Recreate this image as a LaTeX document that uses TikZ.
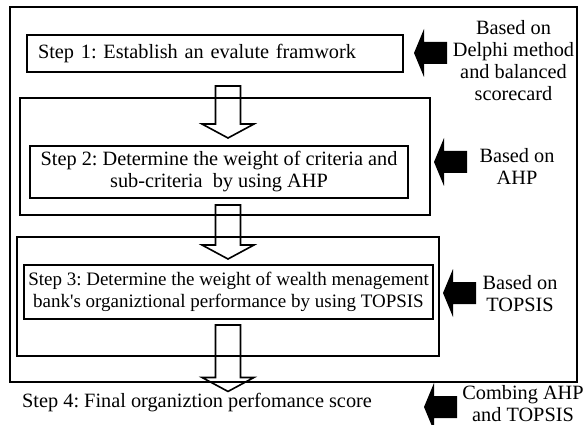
\documentclass[tikz,border=0pt]{standalone}
\usepackage{fontspec}
\setmainfont{Liberation Serif}
\frenchspacing
\usetikzlibrary{calc}
\usetikzlibrary{positioning}
\tikzset{frame/.style = {draw, line width = 2},
         stepbox/.style = {draw, line width = 2, inner sep = 0, align = center},
         based/.style = {inner sep = 0, align = center},
         hollow/.style = {line width = 1.6, line join = miter}}
\newcommand{\stepfont}{\fontsize{20.3}{22}\selectfont}
\newcommand{\smallstepfont}{\fontsize{19}{22}\selectfont}
% open arrow going down, between two points on the spine
\newcommand{\hollowdown}[2]{%
  \draw [hollow] let \p1 = #1, \p2 = #2 in
    (\x1-12.5pt, \y1) -- (\x1+12.5pt, \y1) -- (\x1+12.5pt, \y2+14pt)
    -- (\x1+26pt, \y2+14pt) -- (\x1, \y2) -- (\x1-26pt, \y2+14pt)
    -- (\x1-12.5pt, \y2+14pt) -- cycle;}
% solid arrow pointing left, tip at #1
\newcommand{\blackleft}[1]{%
  \fill (#1) -- ++(10, -24) -- ++(0, 13) -- ++(23, 0) -- ++(0, 22)
    -- ++(-23, 0) -- ++(0, 13) -- cycle;}

\begin{document}
\begin{tikzpicture}[x = 1pt, y = -1pt, font = \stepfont]
      \useasboundingbox (0, 0) rectangle (584, 425);

      \draw [frame] (10, 7) rectangle (577, 382);
      \draw [frame] (20, 98) rectangle (430, 215);
      \draw [frame] (17, 237) rectangle (439, 356);

      \node [stepbox, minimum width = 376, minimum height = 37,
             text width = 354, align = left, inner xsep = 11] (s1) at (215, 53.5)
            {Step 1: Establish an evalute framwork};
      \node [stepbox, minimum width = 378, minimum height = 52] (s2) at (219, 172)
            {Step 2: Determine the weight of criteria and\\
             sub-criteria~ by using AHP};
      \node [stepbox, minimum width = 409, minimum height = 54,
             font = \smallstepfont] (s3) at (228.5, 292)
            {Step 3: Determine the weight of wealth menagement\\
             bank\textquotesingle s organiztional performance by using TOPSIS};
      \node [based, anchor = west] (s4) at (22, 403)
            {Step 4: Final organiztion perfomance score};

      \coordinate (spine) at (228, 0);
      \hollowdown{($(s1.south -| spine) + (0, 13)$)}{($(s2.north -| spine) + (0, -7)$)}
      \hollowdown{($(s2.south -| spine) + (0, 6)$)}{($(s3.north -| spine) + (0, -5)$)}
      \hollowdown{($(s3.south -| spine) + (0, 5)$)}{($(s4.north -| spine) + (0, -2)$)}

      \node [based] (b1) at (513.5, 61)
            {Based on\\ Delphi method\\ and balanced\\ scorecard};
      \node [based] (b2) at (517, 166) {Based on\\ AHP};
      \node [based] (b3) at (520, 293.5) {Based on\\ TOPSIS};
      \node [based] (b4) at (523, 403.5) {Combing AHP\\ and TOPSIS};

      \coordinate (t1) at (414, 53);
      \coordinate (t2) at (434, 162);
      \coordinate (t3) at (443, 293);
      \coordinate (t4) at (424, 407);
      \blackleft{t1}
      \blackleft{t2}
      \blackleft{t3}
      \blackleft{t4}
    \end{tikzpicture}
\end{document}
